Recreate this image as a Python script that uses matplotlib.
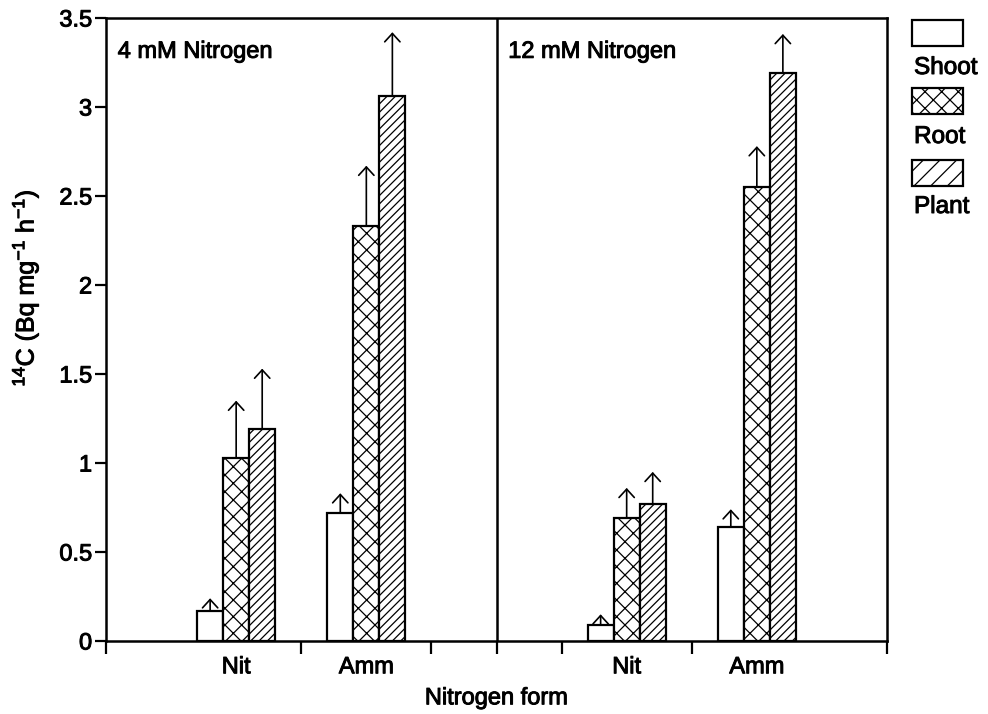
import matplotlib
matplotlib.use("Agg")
import matplotlib.pyplot as plt
import matplotlib.patheffects as pe
from matplotlib.patches import Rectangle
import numpy as np

plt.rcParams['font.family'] = ['Liberation Sans', 'DejaVu Sans']
plt.rcParams['mathtext.fontset'] = 'custom'
plt.rcParams['mathtext.rm'] = 'Liberation Sans'
plt.rcParams['mathtext.it'] = 'Liberation Sans:italic'
plt.rcParams['mathtext.bf'] = 'Liberation Sans:bold'
plt.rcParams['hatch.linewidth'] = 0.9
plt.rcParams['hatch.color'] = 'black'

# Data: 14C allocation by nitrogen form, two nitrogen concentrations
panels = ["4 mM Nitrogen", "12 mM Nitrogen"]
forms = ["Nit", "Amm"]
parts = ["Shoot", "Root", "Plant"]

shoot_4mM = [0.17, 0.72]
root_4mM = [1.03, 2.33]
plant_4mM = [1.19, 3.06]
shoot_4mM_err = [0.07, 0.11]
root_4mM_err = [0.32, 0.34]
plant_4mM_err = [0.34, 0.36]

shoot_12mM = [0.09, 0.64]
root_12mM = [0.69, 2.55]
plant_12mM = [0.77, 3.19]
shoot_12mM_err = [0.06, 0.10]
root_12mM_err = [0.17, 0.23]
plant_12mM_err = [0.18, 0.22]

# x layout: group centres and tick marks on a shared axis with a divider
group_centres = [[2, 4], [8, 10]]
major_ticks = [0, 3, 5, 6, 7, 9, 12]
divider = 6
bar_w = 0.4
bar_hatches = ['', 'xx', '////']
legend_hatches = ['', 'xx', '//']

values = [[shoot_4mM, root_4mM, plant_4mM], [shoot_12mM, root_12mM, plant_12mM]]
errors = [[shoot_4mM_err, root_4mM_err, plant_4mM_err],
          [shoot_12mM_err, root_12mM_err, plant_12mM_err]]

heavy = [pe.withStroke(linewidth=0.7, foreground='black')]
FS = 17

W, H = 988, 714
fig = plt.figure(figsize=(W / 100, H / 100), dpi=100)
ax = fig.add_axes([106 / W, 1 - 641 / H, (887 - 106) / W, (641 - 18) / H])

for p in range(2):
    centres = np.array(group_centres[p], dtype=float)
    for k in range(3):
        xs = centres + (k - 1) * bar_w
        ax.bar(xs, values[p][k], width=bar_w, facecolor='white',
               edgecolor='black', linewidth=1.6, hatch=bar_hatches[k], zorder=3)
        for x, v, e in zip(xs, values[p][k], errors[p][k]):
            ax.annotate('', xy=(x, v + e), xytext=(x, v),
                        arrowprops=dict(arrowstyle='->,head_length=0.6,head_width=0.55',
                                        lw=1.2, color='black', shrinkA=0, shrinkB=0,
                                        mutation_scale=10),
                        zorder=4)

ax.axvline(divider, color='black', lw=1.8, zorder=5)
ax.set_xlim(0, 12)
ax.set_ylim(0, 3.5)

ax.set_xticks(major_ticks)
ax.set_xticklabels([])
ax.set_xticks([c for g in group_centres for c in g], minor=True)
ax.set_xticklabels(forms * 2, minor=True)
ax.tick_params(axis='x', which='major', direction='out', length=9, width=1.6)
ax.tick_params(axis='x', which='minor', length=0, pad=11, labelsize=FS)

ax.set_yticks(np.arange(0, 3.51, 0.5))
ax.set_yticklabels(['0', '0.5', '1', '1.5', '2', '2.5', '3', '3.5'])
ax.tick_params(axis='y', direction='out', length=8, width=1.6, pad=2, labelsize=FS)

for lab in ax.get_xticklabels(minor=True) + ax.get_yticklabels():
    lab.set_path_effects(heavy)

for s in ax.spines.values():
    s.set_linewidth(1.8)

ax.text(0.18, 3.31, panels[0], fontsize=FS, va='center', ha='left', path_effects=heavy)
ax.text(6.18, 3.31, panels[1], fontsize=FS, va='center', ha='left', path_effects=heavy)

ax.set_xlabel('Nitrogen form', fontsize=FS, labelpad=6.5, path_effects=heavy)
fig.text(25 / W, 1 - 288 / H, r'$^{14}$C (Bq mg$^{-1}$ h$^{-1}$)', fontsize=18,
         rotation=90, ha='center', va='center', path_effects=heavy)

# Legend: swatches with their labels underneath
box_tops = [20, 88, 160]
label_centres = [68, 137, 207]
for name, hatch, top, ly in zip(parts, legend_hatches, box_tops, label_centres):
    fig.patches.append(Rectangle((912 / W, 1 - (top + 26) / H), 51 / W, 26 / H,
                                 transform=fig.transFigure, facecolor='white',
                                 edgecolor='black', linewidth=1.6, hatch=hatch))
    fig.text(914 / W, 1 - ly / H, name, fontsize=FS + 0.5, ha='left', va='center',
             path_effects=heavy)

fig.savefig('out.png', dpi=100)
